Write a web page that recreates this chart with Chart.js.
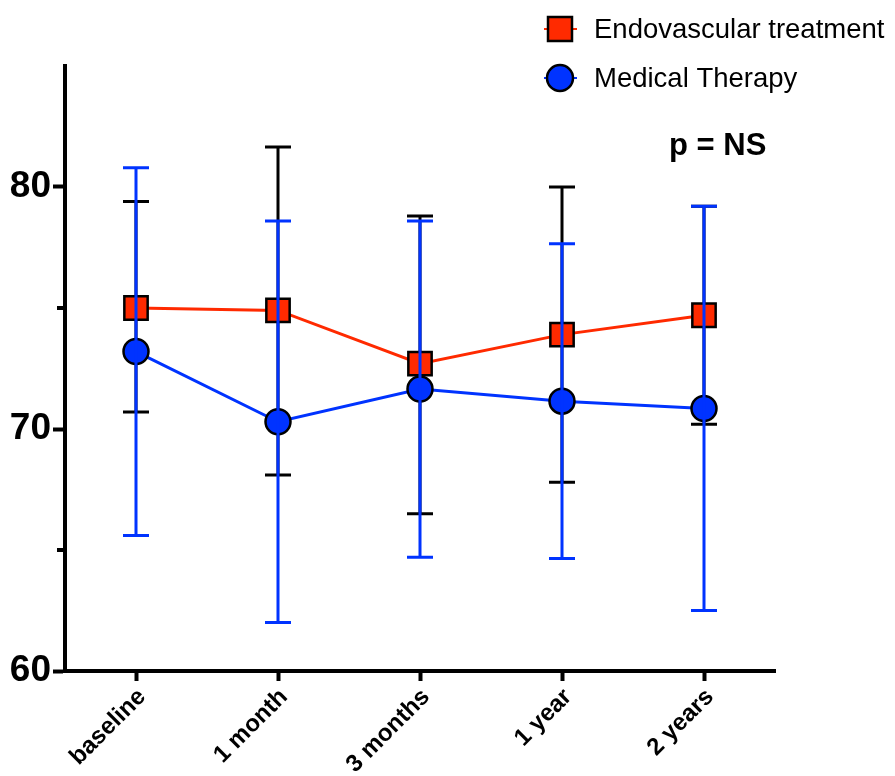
<!DOCTYPE html>
<html>
<head>
<meta charset="utf-8">
<script src="https://cdn.jsdelivr.net/npm/chart.js@4/dist/chart.umd.min.js"></script>
<style>
  html, body { margin: 0; padding: 0; background: #fff; }
  #wrap { width: 895px; height: 776px; }
</style>
</head>
<body>
<div id="wrap"><canvas id="chart"></canvas></div>
<script>
// --- data ---
const categories = ['baseline', '1 month', '3 months', '1 year', '2 years'];

const endoMean  = [75.0, 74.9, 72.7, 73.9, 74.7];
const endoUpper = [79.4, 81.65, 78.8, 80.0, 79.2];
const endoLower = [70.7, 68.1, 66.5, 67.8, 70.2];

const medMean  = [73.2, 70.3, 71.65, 71.15, 70.85];
const medUpper = [80.8, 78.6, 78.6, 77.65, 79.2];
const medLower = [65.6, 62.0, 64.7, 64.65, 62.5];

const yTicks = [60, 70, 80];
const yMinorTicks = [65, 75];

const RED = '#ff2a00';
const BLUE = '#0033ff';

// error bars: black ones behind the markers, blue ones on top
function drawBars(chart, upper, lower, color) {
    const ctx = chart.ctx;
    const x = chart.scales.x, y = chart.scales.y;
    ctx.save();
    ctx.strokeStyle = color;
    ctx.lineWidth = 3;
    for (let i = 0; i < categories.length; i++) {
        const px = x.getPixelForValue(i);
        const top = y.getPixelForValue(upper[i]);
        const bot = y.getPixelForValue(lower[i]);
        ctx.beginPath();
        ctx.moveTo(px, top); ctx.lineTo(px, bot);
        ctx.moveTo(px - 13, top); ctx.lineTo(px + 13, top);
        ctx.moveTo(px - 13, bot); ctx.lineTo(px + 13, bot);
        ctx.stroke();
    }
    ctx.restore();
}

const extras = {
    id: 'extras',
    beforeDatasetsDraw(chart) {
        drawBars(chart, endoUpper, endoLower, '#000');
    },
    afterDatasetsDraw(chart) {
        drawBars(chart, medUpper, medLower, BLUE);
    },
    afterDraw(chart) {
        const ctx = chart.ctx;
        const y = chart.scales.y;
        const left = chart.chartArea.left;
        ctx.save();
        // minor y ticks
        ctx.strokeStyle = '#000';
        ctx.lineWidth = 4;
        yMinorTicks.forEach(v => {
            const py = y.getPixelForValue(v);
            ctx.beginPath();
            ctx.moveTo(left - 8, py); ctx.lineTo(left, py);
            ctx.stroke();
        });

        // legend
        const items = [
            { label: 'Endovascular treatment', color: RED, style: 'rect', y: 29 },
            { label: 'Medical Therapy', color: BLUE, style: 'circle', y: 78 }
        ];
        items.forEach(it => {
            ctx.strokeStyle = it.color;
            ctx.lineWidth = 2;
            ctx.beginPath();
            ctx.moveTo(544, it.y); ctx.lineTo(577, it.y);
            ctx.stroke();
            ctx.fillStyle = it.color;
            ctx.strokeStyle = '#000';
            ctx.lineWidth = 2.5;
            ctx.beginPath();
            if (it.style === 'rect') ctx.rect(548, it.y - 12, 24, 24);
            else ctx.arc(560, it.y, 13, 0, Math.PI * 2);
            ctx.fill(); ctx.stroke();
            ctx.fillStyle = '#000';
            ctx.font = '27.5px "Liberation Sans", Arial, sans-serif';
            ctx.textBaseline = 'middle';
            ctx.fillText(it.label, 594, it.y + 1);
        });

        // significance note
        ctx.font = 'bold 31px "Liberation Sans", Arial, sans-serif';
        ctx.textBaseline = 'alphabetic';
        ctx.fillText('p = NS', 669, 155);
        ctx.restore();
    }
};

new Chart(document.getElementById('chart'), {
    type: 'line',
    data: {
        labels: categories,
        datasets: [
            {
                label: 'Endovascular treatment',
                data: endoMean,
                borderColor: RED,
                borderWidth: 3,
                backgroundColor: RED,
                pointStyle: 'rect',
                pointRadius: 16.5,
                pointBackgroundColor: RED,
                pointBorderColor: '#000',
                pointBorderWidth: 2.5,
                tension: 0
            },
            {
                label: 'Medical Therapy',
                data: medMean,
                borderColor: BLUE,
                borderWidth: 3,
                backgroundColor: BLUE,
                pointStyle: 'circle',
                pointRadius: 12.5,
                pointBackgroundColor: BLUE,
                pointBorderColor: '#000',
                pointBorderWidth: 2.5,
                tension: 0
            }
        ]
    },
    options: {
        responsive: true,
        maintainAspectRatio: false,
        animation: false,
        layout: { padding: { top: 66, right: 120, left: 0, bottom: 0 } },
        plugins: {
            legend: { display: false },
            tooltip: { enabled: false }
        },
        scales: {
            x: {
                offset: true,
                grid: {
                    display: true,
                    drawOnChartArea: false,
                    offset: false,
                    tickLength: 10,
                    tickWidth: 4,
                    tickColor: '#000'
                },
                border: { display: true, width: 4, color: '#000' },
                ticks: {
                    color: '#000',
                    font: { family: '"Liberation Sans", Arial, sans-serif', size: 24, weight: 'bold' },
                    minRotation: 45,
                    maxRotation: 45,
                    padding: 2,
                    labelOffset: 6
                },
                afterFit(scale) { scale.height = 105; }
            },
            y: {
                min: 60,
                max: 85,
                afterBuildTicks(scale) {
                    scale.ticks = yTicks.map(v => ({ value: v }));
                },
                grid: {
                    display: true,
                    drawOnChartArea: false,
                    tickLength: 12,
                    tickWidth: 4,
                    tickColor: '#000'
                },
                border: { display: true, width: 4, color: '#000' },
                ticks: {
                    color: '#000',
                    font: { family: '"Liberation Sans", Arial, sans-serif', size: 37, weight: 'bold' },
                    padding: 2
                },
                afterFit(scale) { scale.width = 65; }
            }
        }
    },
    plugins: [extras]
});
</script>
</body>
</html>
